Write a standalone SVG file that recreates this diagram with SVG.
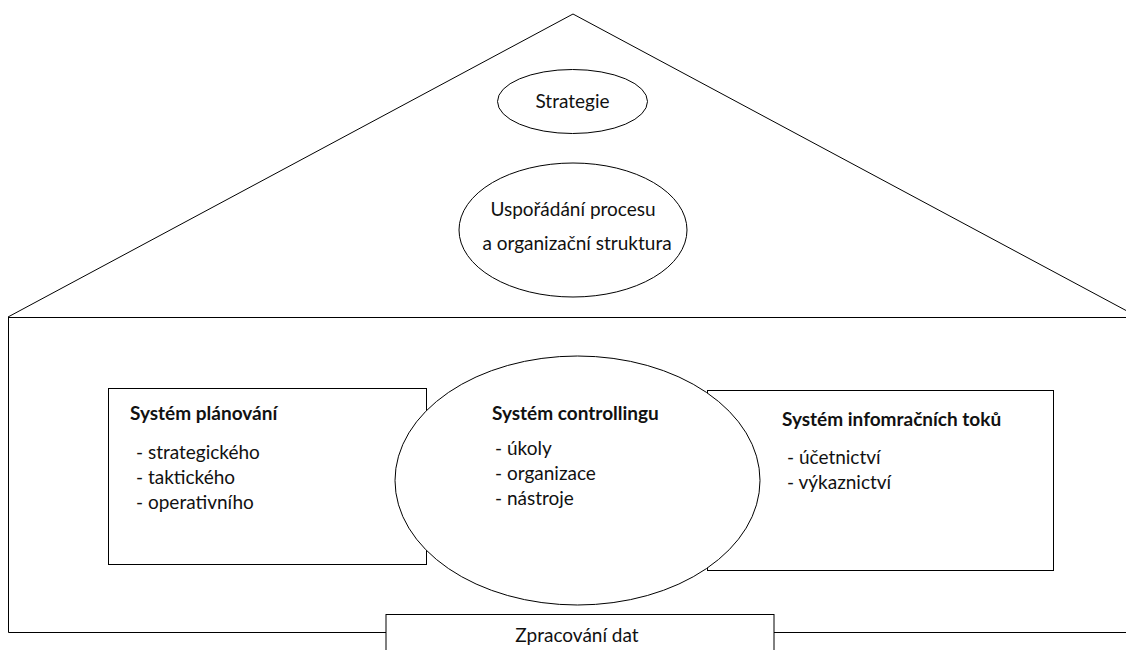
<svg xmlns="http://www.w3.org/2000/svg" width="1126" height="650" viewBox="0 0 1126 650">
<style>
.ln{fill:none;stroke:#000;stroke-width:1}
.sh{fill:#fff;stroke:#000;stroke-width:1}
text{font-family:Lato,"Open Sans","Liberation Sans",sans-serif;font-size:19px;fill:#111}
.b{font-weight:bold}
.c{text-anchor:middle}
</style>
<rect width="1126" height="650" fill="#fff"/>
<g id="house">
<polyline class="ln" points="8,317 573,14 1140,318"/>
<line class="ln" x1="8" y1="317.5" x2="1126" y2="317.5"/>
<polyline class="ln" points="8.5,317 8.5,632.5 1126,632.5"/>
</g>
<g id="strategie">
<ellipse class="sh" cx="572.5" cy="101.5" rx="75" ry="32"/>
<text class="c" x="572.5" y="108">Strategie</text>
</g>
<g id="usporadani">
<ellipse class="sh" cx="573" cy="230" rx="114" ry="67"/>
<text class="c" x="573" y="216">Uspořádání procesu</text>
<text class="c" x="577" y="250">a organizační struktura</text>
</g>
<g id="planovani">
<rect class="sh" x="108.5" y="388.5" width="318" height="176"/>
<text class="b" x="130" y="420">Systém plánování</text>
<text x="136" y="459">- strategického</text>
<text x="136" y="484">- taktického</text>
<text x="136" y="509">- operativního</text>
</g>
<g id="informacni">
<rect class="sh" x="707.5" y="390.5" width="346" height="180"/>
<text class="b" x="782" y="426">Systém infomračních toků</text>
<text x="787" y="464">- účetnictví</text>
<text x="787" y="489">- výkaznictví</text>
</g>
<g id="controlling">
<ellipse class="sh" cx="577.5" cy="480.5" rx="182.5" ry="124.5"/>
<text class="b" x="492" y="420">Systém controllingu</text>
<text x="495" y="455">- úkoly</text>
<text x="495" y="480">- organizace</text>
<text x="495" y="505">- nástroje</text>
</g>
<g id="zpracovani">
<rect class="sh" x="386" y="614.5" width="388" height="50"/>
<text class="c" x="577" y="642">Zpracování dat</text>
</g>
<g id="connectors"></g>
</svg>
